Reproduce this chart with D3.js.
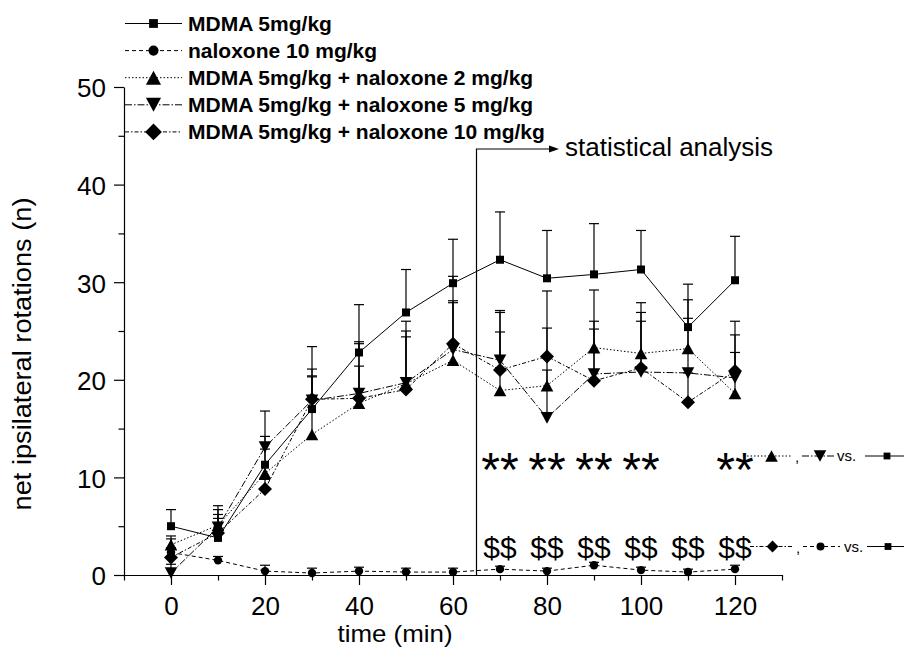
<!DOCTYPE html>
<html><head><meta charset="utf-8">
<script src="https://cdn.jsdelivr.net/npm/d3@7/dist/d3.min.js"></script>
<style>
body{margin:0;background:#fff;}
svg{display:block;}
text{font-family:"Liberation Sans", Arial, Helvetica, sans-serif;fill:#000;}
</style>
</head><body>
<svg id="chart" width="906" height="665"></svg>
<script>
// ---------- DATA ----------
const times = [0, 10, 20, 30, 40, 50, 60, 70, 80, 90, 100, 110, 120];
const seriesNames = [
  "MDMA 5mg/kg",
  "naloxone 10 mg/kg",
  "MDMA 5mg/kg + naloxone 2 mg/kg",
  "MDMA 5mg/kg + naloxone 5 mg/kg",
  "MDMA 5mg/kg + naloxone 10 mg/kg"
];
const mdmaMean   = [5.0, 3.8, 11.3, 17.0, 22.8, 26.9, 29.9, 32.3, 30.4, 30.8, 31.3, 25.4, 30.2];
const mdmaSem    = [1.7, 3.3, 5.5, 6.4, 4.9, 4.4, 4.5, 4.9, 4.9, 5.2, 4.0, 4.4, 4.5];
const naloxMean  = [2.3, 1.5, 0.4, 0.2, 0.4, 0.3, 0.3, 0.6, 0.4, 1.0, 0.5, 0.3, 0.6];
const naloxSem   = [0.5, 0.4, 0.6, 0.5, 0.4, 0.4, 0.4, 0.3, 0.3, 0.3, 0.3, 0.3, 0.4];
const nal2Mean   = [3.1, 5.1, 10.4, 14.4, 17.6, 19.6, 22.0, 18.9, 19.4, 23.3, 22.7, 23.2, 18.6];
const nal2Sem    = [0.9, 1.6, 2.5, 5.9, 3.8, 4.8, 5.9, 6.0, 1.6, 2.7, 3.3, 5.0, 4.2];
const nal5Mean   = [0.2, 4.9, 13.1, 17.9, 18.6, 19.7, 23.1, 22.0, 16.1, 20.6, 20.8, 20.7, 20.2];
const nal5Sem    = [0.9, 1.3, 1.1, 3.2, 5.3, 6.3, 7.5, 5.1, 9.2, 8.6, 7.1, 5.6, 5.8];
const nal10Mean  = [1.8, 4.3, 8.8, 18.0, 18.1, 19.0, 23.7, 21.0, 22.4, 19.9, 21.2, 17.7, 20.9];
const nal10Sem   = [1.9, 1.5, 1.0, 2.4, 5.6, 6.0, 4.4, 5.9, 6.7, 5.3, 5.7, 3.0, 3.7];

const xMajorTicks = [0, 20, 40, 60, 80, 100, 120];
const xMinorTicks = [-10, 10, 30, 50, 70, 90, 110, 130];
const yMajorTicks = [0, 10, 20, 30, 40, 50];
const yMinorTicks = [5, 15, 25, 35, 45];
const starTimes   = [70, 80, 90, 100, 120];
const dollarTimes = [70, 80, 90, 100, 110, 120];
const starLevel = 12.0, dollarLevel = 2.8;
const analysisTime = 65;
const xTitle = "time (min)";
const yTitle = "net ipsilateral rotations (n)";
const analysisLabel = "statistical analysis";

// ---------- STYLES ----------
const styles = [
  {marker: "square",  dash: null},
  {marker: "circle",  dash: "4,3"},
  {marker: "triUp",   dash: "1.5,2"},
  {marker: "triDown", dash: "7,2,1.5,2"},
  {marker: "diamond", dash: "4,2,1.5,2"}
];
const means = [mdmaMean, naloxMean, nal2Mean, nal5Mean, nal10Mean];
const sems  = [mdmaSem, naloxSem, nal2Sem, nal5Sem, nal10Sem];
const series = seriesNames.map((name, i) => ({
  name, style: styles[i],
  points: times.map((t, j) => ({t, v: means[i][j], e: sems[i][j]}))
}));

function markerPath(type, k) {
  k = k || 1;
  switch (type) {
    case "square": { const h = 4 * k; return `M${-h},${-h}H${h}V${h}H${-h}Z`; }
    case "circle": { const r = 4.2 * k; return `M${r},0A${r},${r} 0 1,1 ${-r},0A${r},${r} 0 1,1 ${r},0Z`; }
    case "triUp": { const w = 6.3 * k, h = 5.8 * k; return `M${-w},${h}L${w},${h}L0,${-h}Z`; }
    case "triDown": { const w = 6.3 * k, h = 5.8 * k; return `M${-w},${-h}L${w},${-h}L0,${h}Z`; }
    case "diamond": { const d = 7 * k; return `M0,${-d}L${d},0L0,${d}L${-d},0Z`; }
  }
}

// ---------- CHART ----------
const svg = d3.select("#chart");
const x = d3.scaleLinear().domain([-10, 130]).range([124, 782]);
const y = d3.scaleLinear().domain([0, 50]).range([575, 87]);

// axes
const gx = svg.append("g").attr("transform", `translate(0,${y(0)})`);
gx.call(d3.axisBottom(x).tickValues(xMinorTicks).tickSize(5.5).tickFormat("").tickSizeOuter(0));
const gxM = svg.append("g").attr("transform", `translate(0,${y(0)})`);
gxM.call(d3.axisBottom(x).tickValues(xMajorTicks).tickSize(10).tickPadding(11.5).tickSizeOuter(0));
gxM.select(".domain").remove();

const gy = svg.append("g").attr("transform", `translate(${x(-10)},0)`);
gy.call(d3.axisLeft(y).tickValues(yMinorTicks).tickSize(5.5).tickFormat("").tickSizeOuter(0));
const gyM = svg.append("g").attr("transform", `translate(${x(-10)},0)`);
gyM.call(d3.axisLeft(y).tickValues(yMajorTicks).tickSize(10).tickPadding(8).tickSizeOuter(0));
gyM.select(".domain").remove();

svg.selectAll(".domain, .tick line").attr("stroke", "#000").attr("stroke-width", 1.2);
svg.selectAll(".tick text").attr("font-size", 26).attr("font-family", '"Liberation Sans", Arial, sans-serif').attr("fill", "#000");
gyM.selectAll(".tick text").attr("dy", "0.38em");

// axis titles
svg.append("text").attr("x", 395).attr("y", 642).attr("text-anchor", "middle")
  .attr("font-size", 24).attr("textLength", 115).attr("lengthAdjust", "spacingAndGlyphs").text(xTitle);
svg.append("text").attr("transform", `translate(31,354) rotate(-90)`).attr("text-anchor", "middle")
  .attr("font-size", 25).attr("textLength", 313).attr("lengthAdjust", "spacingAndGlyphs").text(yTitle);

// statistical analysis arrow
svg.append("path").attr("d", `M${x(analysisTime)},${y(0)}V149H552`)
  .attr("fill", "none").attr("stroke", "#000").attr("stroke-width", 1.2);
svg.append("path").attr("d", "M559,149L549,145.5L549,152.5Z").attr("fill", "#000");
svg.append("text").attr("x", 565).attr("y", 156).attr("font-size", 26).text(analysisLabel);

// lines
const line = d3.line().x(d => x(d.t)).y(d => y(d.v));
const drawOrder = [4, 3, 2, 1, 0];
drawOrder.forEach(i => {
  const s = series[i];
  svg.append("path").attr("d", line(s.points)).attr("fill", "none")
    .attr("stroke", "#000").attr("stroke-width", 1)
    .attr("stroke-dasharray", s.style.dash);
});
// error bars (upper only)
drawOrder.forEach(i => {
  const s = series[i];
  const g = svg.append("g").attr("stroke", "#000").attr("stroke-width", 1.2);
  s.points.forEach(p => {
    g.append("line").attr("x1", x(p.t)).attr("x2", x(p.t)).attr("y1", y(p.v)).attr("y2", y(p.v + p.e));
    g.append("line").attr("x1", x(p.t) - 5).attr("x2", x(p.t) + 5).attr("y1", y(p.v + p.e)).attr("y2", y(p.v + p.e));
  });
});
// markers
drawOrder.forEach(i => {
  const s = series[i];
  svg.append("g").selectAll("path").data(s.points).join("path")
    .attr("transform", d => `translate(${x(d.t)},${y(d.v)})`)
    .attr("d", markerPath(s.style.marker, 1)).attr("fill", "#000");
});

// legend
const legend = svg.append("g");
series.forEach((s, i) => {
  const ly = 23.5 + i * 27.1;
  legend.append("line").attr("x1", 125).attr("x2", 182).attr("y1", ly).attr("y2", ly)
    .attr("stroke", "#000").attr("stroke-width", 1).attr("stroke-dasharray", s.style.dash);
  const k = s.style.marker === "square" ? 1.1 : 1.2;
  legend.append("path").attr("transform", `translate(153.5,${ly})`)
    .attr("d", markerPath(s.style.marker, k)).attr("fill", "#000");
  legend.append("text").attr("x", 188).attr("y", ly + 7.5).attr("font-size", 21)
    .attr("font-weight", "bold").text(s.name);
});

// significance marks
svg.append("g").selectAll("text").data(starTimes).join("text")
  .attr("x", d => x(d)).attr("y", y(starLevel) + 28).attr("text-anchor", "middle")
  .attr("font-size", 48).text("**");
svg.append("g").selectAll("text").data(dollarTimes).join("text")
  .attr("x", d => x(d)).attr("y", y(dollarLevel) + 10).attr("text-anchor", "middle")
  .attr("font-size", 30).text("$$");

// comparison keys
function keyRow(yy, items) {
  const g = svg.append("g");
  items.forEach(it => {
    if (it.kind === "line") {
      g.append("line").attr("x1", it.x1).attr("x2", it.x2).attr("y1", yy).attr("y2", yy)
        .attr("stroke", "#000").attr("stroke-width", 1).attr("stroke-dasharray", series[it.s].style.dash);
    } else if (it.kind === "marker") {
      g.append("path").attr("transform", `translate(${it.x},${yy})`)
        .attr("d", markerPath(series[it.s].style.marker, it.k)).attr("fill", "#000");
    } else {
      g.append("text").attr("x", it.x).attr("y", yy + it.dy).attr("font-size", 15).text(it.t);
    }
  });
}
keyRow(456, [
  {kind: "line", s: 2, x1: 747, x2: 792}, {kind: "marker", s: 2, x: 771.5, k: 1.0},
  {kind: "text", t: ",", x: 795, dy: 6},
  {kind: "line", s: 3, x1: 802, x2: 836}, {kind: "marker", s: 3, x: 820, k: 1.0},
  {kind: "text", t: "vs.", x: 837, dy: 5},
  {kind: "line", s: 0, x1: 865, x2: 904}, {kind: "marker", s: 0, x: 887, k: 0.85}
]);
keyRow(546.5, [
  {kind: "line", s: 4, x1: 750, x2: 793}, {kind: "marker", s: 4, x: 772.5, k: 0.85},
  {kind: "text", t: ",", x: 796, dy: 6},
  {kind: "line", s: 1, x1: 803, x2: 840}, {kind: "marker", s: 1, x: 820.5, k: 0.95},
  {kind: "text", t: "vs.", x: 844, dy: 5},
  {kind: "line", s: 0, x1: 867, x2: 904}, {kind: "marker", s: 0, x: 888, k: 0.85}
]);
</script>
</body></html>
